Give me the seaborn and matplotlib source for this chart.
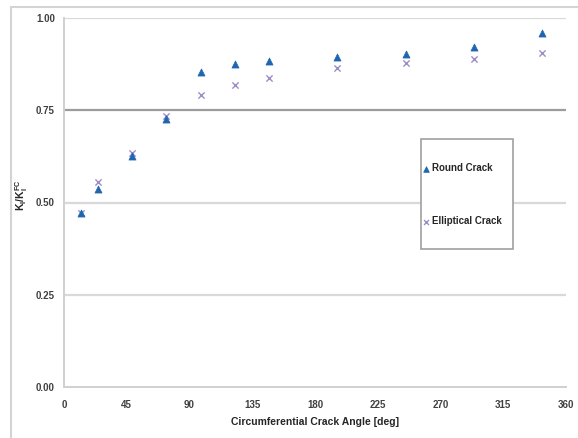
import matplotlib
matplotlib.use("Agg")
import matplotlib.pyplot as plt
from matplotlib.patches import Rectangle
import pandas as pd
import seaborn as sns

# Stress intensity ratio versus circumferential crack angle
angles = [12.25, 24.5, 49, 73.5, 98, 122.5, 147, 196, 245, 294, 343]
round_crack = [0.471, 0.537, 0.626, 0.726, 0.854, 0.875, 0.884, 0.893, 0.902, 0.921, 0.960]
elliptical_crack = [0.471, 0.555, 0.633, 0.734, 0.790, 0.819, 0.838, 0.865, 0.877, 0.890, 0.906]
x_ticks = [0, 45, 90, 135, 180, 225, 270, 315, 360]
y_ticks = [0.00, 0.25, 0.50, 0.75, 1.00]

sns.set_style("white")
plt.rcParams["font.family"] = ["Liberation Sans", "DejaVu Sans"]
plt.rcParams["mathtext.fontset"] = "custom"
plt.rcParams["mathtext.rm"] = "Liberation Sans:weight=bold"
plt.rcParams["mathtext.it"] = "Liberation Sans:weight=bold"
plt.rcParams["mathtext.bf"] = "Liberation Sans:weight=bold"

W, H = 578, 438
fig = plt.figure(figsize=(W / 100, H / 100), dpi=100)
ax = fig.add_axes([64 / W, 1 - 387 / H, 502 / W, 369 / H])

df_round = pd.DataFrame({"angle": angles, "ratio": round_crack})
df_ell = pd.DataFrame({"angle": angles, "ratio": elliptical_crack})

# horizontal grid
for yv in y_ticks[1:]:
    ax.axhline(yv, color="#9c9c9c" if yv == 0.75 else "#d9d9d9",
               lw=1.6, zorder=1)

sns.scatterplot(data=df_ell, x="angle", y="ratio", marker="x", color="#9d8cc6",
                s=20, linewidth=1.0, label="Elliptical Crack", ax=ax, zorder=3)
sns.scatterplot(data=df_round, x="angle", y="ratio", marker="^", color="#1f66b0",
                edgecolor="#1f66b0", s=26, linewidth=0.5, label="Round Crack",
                ax=ax, zorder=4)

ax.set_xlim(0, 360)
ax.set_ylim(0, 1.0)
ax.set_xticks(x_ticks)
ax.set_yticks(y_ticks)
ax.set_yticklabels([f"{v:.2f}" for v in y_ticks])
ax.tick_params(axis="both", length=0, labelsize=7, labelcolor="#404040")
ax.tick_params(axis="x", pad=9)
ax.tick_params(axis="y", pad=6.5)
for lbl in ax.get_xticklabels() + ax.get_yticklabels():
    lbl.set_fontweight("bold")

for side in ["top", "right"]:
    ax.spines[side].set_visible(False)
for side in ["left", "bottom"]:
    ax.spines[side].set_color("#d0d0d0")
    ax.spines[side].set_linewidth(1.4)

ax.set_xlabel("Circumferential Crack Angle [deg]", fontsize=7.5,
              fontweight="bold", color="#262626")
ax.xaxis.set_label_coords(0.5, -0.082)
ax.set_ylabel(r"$\mathrm{K_I/K_I^{FC}}$", fontsize=7.5, color="#262626")
ax.yaxis.set_label_coords(-0.068, 0.52)

# legend with its own boxed frame
handles, labels = ax.get_legend_handles_labels()
order = [labels.index("Round Crack"), labels.index("Elliptical Crack")]
leg = ax.legend([handles[i] for i in order], [labels[i] for i in order],
                loc="center left", bbox_to_anchor=(424 / W, 1 - 194.7 / H),
                bbox_transform=fig.transFigure, frameon=False,
                labelspacing=4.4, handlelength=0.5, handletextpad=0.35,
                borderpad=0, borderaxespad=0, markerscale=0.8,
                prop={"weight": "bold", "size": 7})
for t in leg.get_texts():
    t.set_color("#262626")
box = Rectangle((420.7 / W, 1 - 249.3 / H), 92.3 / W, 110 / H,
                transform=fig.transFigure, facecolor="white",
                edgecolor="#a0a0a0", lw=1.2, zorder=4.5, clip_on=False)
ax.add_patch(box)

# outer chart border
fig.patches.append(Rectangle((11 / W, -0.02), 1.0, 1 - 7.5 / H + 0.02,
                             transform=fig.transFigure, facecolor="none",
                             edgecolor="#d4d4d4", lw=1.5))

fig.savefig("out.png", dpi=100)
